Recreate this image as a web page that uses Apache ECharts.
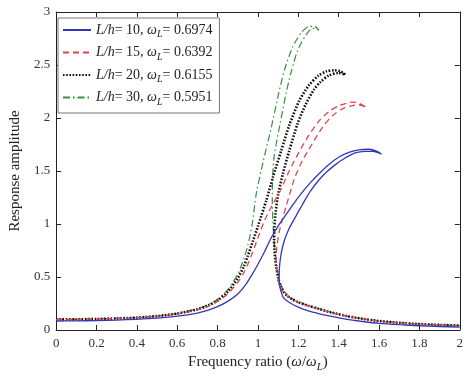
<!DOCTYPE html>
<html><head><meta charset="utf-8">
<script src="https://cdn.jsdelivr.net/npm/echarts@6/dist/echarts.min.js"></script>
<style>html,body{margin:0;padding:0;background:#fff}#c{width:466px;height:379px}</style>
</head><body><div id="c"></div>
<script>
// ---- tick labels ----
const xTickLabels = ['0','0.2','0.4','0.6','0.8','1','1.2','1.4','1.6','1.8','2'];
const yTickLabels = ['0','0.5','1','1.5','2','2.5','3'];

// ---- legend pieces ----
const lhValues = ['10','15','20','30'];
const omegaValues = ['0.6974','0.6392','0.6155','0.5951'];
const seriesNames = ['L/h= 10, ωL= 0.6974','L/h= 15, ωL= 0.6392','L/h= 20, ωL= 0.6155','L/h= 30, ωL= 0.5951'];

// ---- curves [frequency ratio, response amplitude] ----
const curveLh10 = [
[0,0.085],[0.1,0.086],[0.2,0.089],[0.3,0.094],[0.4,0.101],[0.5,0.112],[0.6,0.13],[0.7,0.16],[0.75,0.185],[0.8,0.22],[0.85,0.27],[0.9,0.34],[0.94,0.43],[0.97,0.52],[1.0,0.62],[1.033,0.74],[1.066,0.87],[1.1,0.98],[1.14,1.09],[1.18,1.2],[1.22,1.3],[1.26,1.39],[1.3,1.47],[1.35,1.56],[1.4,1.63],[1.45,1.675],[1.5,1.70],[1.55,1.705],[1.585,1.69],[1.612,1.66],
[1.57,1.685],[1.53,1.685],[1.482,1.67],[1.43,1.62],[1.384,1.56],[1.34,1.49],[1.3,1.41],[1.26,1.31],[1.225,1.2],[1.19,1.08],[1.155,0.96],[1.13,0.84],[1.115,0.72],[1.107,0.6],[1.105,0.5],[1.108,0.42],[1.115,0.36],[1.125,0.31],[1.14,0.28],[1.164,0.25],[1.2,0.215],[1.25,0.18],[1.3,0.155],[1.36,0.13],[1.44,0.1],[1.52,0.08],[1.6,0.063],[1.7,0.05],[1.8,0.04],[1.9,0.033],[2.0,0.028]
];
const curveLh15 = [
[0,0.1],[0.1,0.101],[0.2,0.104],[0.3,0.109],[0.4,0.117],[0.5,0.13],[0.6,0.152],[0.7,0.19],[0.75,0.22],[0.8,0.27],[0.85,0.34],[0.9,0.45],[0.93,0.54],[0.95,0.62],[0.975,0.74],[1.0,0.87],[1.03,1.02],[1.066,1.16],[1.107,1.3],[1.155,1.5],[1.204,1.68],[1.253,1.84],[1.302,1.97],[1.351,2.06],[1.4,2.115],[1.44,2.14],[1.47,2.15],[1.5,2.14],[1.539,2.1],
[1.5,2.125],[1.455,2.11],[1.417,2.085],[1.368,2.02],[1.319,1.91],[1.27,1.76],[1.221,1.6],[1.185,1.45],[1.16,1.3],[1.14,1.17],[1.12,1.04],[1.105,0.92],[1.095,0.8],[1.09,0.69],[1.092,0.58],[1.1,0.48],[1.11,0.41],[1.125,0.36],[1.145,0.32],[1.17,0.29],[1.2,0.26],[1.25,0.225],[1.3,0.198],[1.36,0.165],[1.44,0.13],[1.52,0.104],[1.6,0.084],[1.7,0.067],[1.8,0.055],[1.9,0.047],[2.0,0.041]
];
const curveLh20 = [
[0,0.1],[0.1,0.101],[0.2,0.104],[0.3,0.109],[0.4,0.117],[0.5,0.131],[0.6,0.155],[0.7,0.195],[0.75,0.228],[0.8,0.28],[0.85,0.36],[0.9,0.49],[0.93,0.6],[0.95,0.7],[0.975,0.84],[1.0,0.98],[1.041,1.22],[1.074,1.44],[1.115,1.69],[1.155,1.93],[1.204,2.16],[1.253,2.31],[1.3,2.4],[1.34,2.44],[1.38,2.45],[1.41,2.44],[1.433,2.41],
[1.4,2.425],[1.351,2.4],[1.31,2.34],[1.278,2.27],[1.237,2.13],[1.197,1.95],[1.155,1.69],[1.123,1.47],[1.1,1.28],[1.088,1.12],[1.082,0.98],[1.08,0.85],[1.083,0.72],[1.09,0.6],[1.1,0.49],[1.112,0.41],[1.127,0.36],[1.147,0.32],[1.17,0.29],[1.2,0.262],[1.25,0.228],[1.3,0.2],[1.36,0.167],[1.44,0.131],[1.52,0.105],[1.6,0.085],[1.7,0.068],[1.8,0.056],[1.9,0.048],[2.0,0.042]
];
const curveLh30 = [
[0,0.1],[0.1,0.101],[0.2,0.104],[0.3,0.11],[0.4,0.118],[0.5,0.132],[0.6,0.157],[0.7,0.2],[0.75,0.235],[0.8,0.29],[0.85,0.38],[0.9,0.53],[0.93,0.67],[0.95,0.8],[0.97,0.98],[0.993,1.3],[1.025,1.58],[1.05,1.78],[1.066,1.91],[1.099,2.2],[1.131,2.45],[1.172,2.67],[1.213,2.8],[1.253,2.865],[1.28,2.865],[1.302,2.83],
[1.27,2.845],[1.237,2.78],[1.197,2.64],[1.164,2.43],[1.139,2.23],[1.107,1.92],[1.09,1.75],[1.078,1.6],[1.072,1.4],[1.071,1.2],[1.074,1.02],[1.079,0.87],[1.086,0.72],[1.095,0.59],[1.106,0.48],[1.118,0.41],[1.133,0.36],[1.15,0.32],[1.175,0.29],[1.2,0.265],[1.25,0.23],[1.3,0.202],[1.36,0.168],[1.44,0.132],[1.52,0.106],[1.6,0.086],[1.7,0.069],[1.8,0.057],[1.9,0.049],[2.0,0.043]
];

const FONT = 'Liberation Serif';
const curves = [curveLh10, curveLh15, curveLh20, curveLh30];
const colors = ['#3535b8', '#df4550', '#111111', '#36903c'];
const lineTypes = ['solid', [6, 4], [1.6, 1.6], [7, 3, 1.5, 3]];
const lineWidths = [1.3, 1.3, 2.6, 1.2];

const richBase = {
  n: {fontFamily: FONT, fontSize: 14, color: '#222'},
  i: {fontFamily: FONT, fontSize: 14, fontStyle: 'italic', color: '#222'},
  s: {fontFamily: FONT, fontSize: 10, fontStyle: 'italic', color: '#222', padding: [9, 0, 0, 0]}
};

const chart = echarts.init(document.getElementById('c'), null, {renderer: 'canvas'});
const axisCommon = {
  type: 'value',
  splitLine: {show: false},
  axisLine: {show: true, onZero: false, lineStyle: {color: '#222', width: 1}},
  axisTick: {show: true, inside: true, length: 5, lineStyle: {color: '#222'}}
};
chart.setOption({
  animation: false,
  backgroundColor: '#fff',
  grid: {left: 52, right: 4, top: 12, bottom: 49},
  xAxis: [
    Object.assign({}, axisCommon, {
      position: 'bottom', min: 0, max: 2, interval: 0.2,
      axisLabel: {show: true, margin: 7, fontFamily: FONT, fontSize: 13, color: '#333',
        formatter: function (v) { return xTickLabels[Math.round(v / 0.2)]; }},
      name: '{n|Frequency ratio (}{i|ω}{n|/}{i|ω}{s|L}{n|)}',
      nameLocation: 'middle', nameGap: 12,
      nameTextStyle: {fontFamily: FONT, fontSize: 15, color: '#222',
        rich: {
          n: {fontFamily: FONT, fontSize: 15, color: '#222'},
          i: {fontFamily: FONT, fontSize: 15, fontStyle: 'italic', color: '#222'},
          s: {fontFamily: FONT, fontSize: 11, fontStyle: 'italic', color: '#222', padding: [10, 0, 0, 0]}
        }}
    }),
    Object.assign({}, axisCommon, {
      position: 'top', min: 0, max: 2, interval: 0.2, axisLabel: {show: false}
    })
  ],
  yAxis: [
    Object.assign({}, axisCommon, {
      position: 'left', min: 0, max: 3, interval: 0.5,
      axisLabel: {show: true, margin: 6, fontFamily: FONT, fontSize: 13, color: '#333',
        formatter: function (v) { return yTickLabels[Math.round(v / 0.5)]; }},
      name: 'Response amplitude', nameLocation: 'middle', nameGap: 26,
      nameTextStyle: {fontFamily: FONT, fontSize: 15, color: '#222'}
    }),
    Object.assign({}, axisCommon, {
      position: 'right', min: 0, max: 3, interval: 0.5, axisLabel: {show: false}
    })
  ],
  legend: {
    orient: 'vertical', left: 58, top: 18,
    padding: [5, 7, 6, 4], itemGap: 6, itemWidth: 28, itemHeight: 14,
    backgroundColor: '#fff', borderColor: '#777', borderWidth: 1,
    itemStyle: {opacity: 0},
    textStyle: {fontFamily: FONT, fontSize: 14, color: '#222', rich: richBase},
    data: seriesNames,
    formatter: function (name) {
      const k = seriesNames.indexOf(name);
      return '{i|L/h}{n|= ' + lhValues[k] + ', }{i|ω}{s|L}{n|= ' + omegaValues[k] + '}';
    }
  },
  series: curves.map(function (c, k) {
    return {
      name: seriesNames[k], type: 'line', xAxisIndex: 0, yAxisIndex: 0,
      data: c, showSymbol: false, symbol: 'none', smooth: 0.25,
      lineStyle: {color: colors[k], width: lineWidths[k], type: lineTypes[k]},
      itemStyle: {color: colors[k]},
      z: 10 - k
    };
  })
});
</script></body></html>
